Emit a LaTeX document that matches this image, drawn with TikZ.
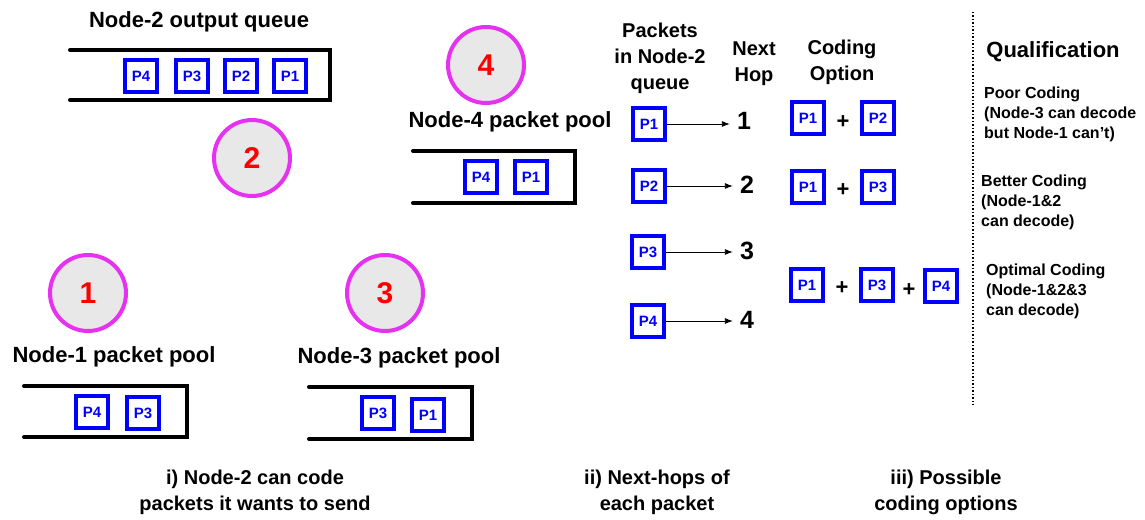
\documentclass[tikz,border=0pt]{standalone}
\usepackage{fontspec}
\setmainfont{Liberation Sans}
\usepackage{tikz}
\usetikzlibrary{arrows.meta}
\definecolor{pktblue}{RGB}{0,0,255}
\definecolor{ringpink}{RGB}{230,50,240}
\definecolor{ringfill}{RGB}{232,232,232}

\begin{document}
\begin{tikzpicture}[
      x=1pt,y=-1pt,
      >={Latex[length=8pt,width=6pt]},
      pkt/.style={
        draw=pktblue,line width=3.5pt,minimum size=32pt,inner sep=0pt,
        text=pktblue,font=\bfseries\fontsize{15}{15}\selectfont
      },
      ring/.style={
        draw=ringpink,fill=ringfill,circle,line width=4pt,minimum size=76pt,
        inner sep=0pt,text=red,font=\bfseries\fontsize{30}{30}\selectfont
      },
      big/.style={font=\bfseries\fontsize{22}{26}\selectfont,align=center},
      head/.style={font=\bfseries\fontsize{20}{26}\selectfont,align=center},
      hop/.style={font=\bfseries\fontsize{25}{25}\selectfont,inner sep=1pt},
      plus/.style={font=\bfseries\fontsize{22}{22}\selectfont},
      note/.style={font=\bfseries\fontsize{16}{20}\selectfont,align=left,anchor=north west,inner sep=0pt},
      queue/.style={line width=4pt,line cap=round},
    ]
    \useasboundingbox (0,0) rectangle (1145,519);

    % node 2 output queue
    \node[big] (q2t) at (199,22) {Node-2 output queue};
    \draw[queue] (70,50) -- (330,50) -- (330,100) -- (70,100);
    \node[pkt] (q2a) at (141,76) {P4};
    \node[pkt] (q2b) at (192,76) {P3};
    \node[pkt] (q2c) at (241,76) {P2};
    \node[pkt] (q2d) at (290,76) {P1};
    \node[ring] (n2) at (252,158) {2};

    % node 4
    \node[ring] (n4) at (486,65) {4};
    \node[big] (q4t) at (510,122) {Node-4 packet pool};
    \draw[queue] (413,151) -- (575,151) -- (575,203) -- (413,203);
    \node[pkt] (q4a) at (481,177) {P4};
    \node[pkt] (q4b) at (531,177) {P1};

    % node 1
    \node[ring] (n1) at (88,293) {1};
    \node[big] (q1t) at (114,357) {Node-1 packet pool};
    \draw[queue] (24,386) -- (187,386) -- (187,437) -- (24,437);
    \node[pkt] (q1a) at (92,412) {P4};
    \node[pkt] (q1b) at (143,413) {P3};

    % node 3
    \node[ring] (n3) at (385,293) {3};
    \node[big] (q3t) at (399,358) {Node-3 packet pool};
    \draw[queue] (309,387) -- (472,387) -- (472,439) -- (309,439);
    \node[pkt] (q3a) at (378,413) {P3};
    \node[pkt] (q3b) at (428,415) {P1};

    % next hops
    \node[head] (hpk) at (660,58) {Packets\\in Node-2\\queue};
    \node[head] (hnh) at (754,64) {Next\\Hop};
    \node[head] (hco) at (842,62) {Coding\\Option};
    \node[pkt] (c1) at (649,124) {P1};
    \node[pkt] (c2) at (649,186) {P2};
    \node[pkt] (c3) at (648,252) {P3};
    \node[pkt] (c4) at (648,321) {P4};
    \node[hop] (h1) at (744,121) {1};
    \node[hop] (h2) at (747,185) {2};
    \node[hop] (h3) at (747,251) {3};
    \node[hop] (h4) at (747,320) {4};
    \draw[thick,->,shorten >=6pt] (c1) -- (c1 -| h1.west);
    \draw[thick,->,shorten >=6pt] (c2) -- (c2 -| h2.west);
    \draw[thick,->,shorten >=6pt] (c3) -- (c3 -| h3.west);
    \draw[thick,->,shorten >=6pt] (c4) -- (c4 -| h4.west);

    % coding options
    \node[pkt] (o1a) at (808,118) {P1};
    \node[plus] (o1p) at (843,122) {+};
    \node[pkt] (o1b) at (878,118) {P2};
    \node[pkt] (o2a) at (808,187) {P1};
    \node[plus] (o2p) at (843,190) {+};
    \node[pkt] (o2b) at (878,187) {P3};
    \node[pkt] (o3a) at (807,285) {P1};
    \node[plus] (o3p) at (842,288) {+};
    \node[pkt] (o3b) at (877,285) {P3};
    \node[plus] (o3q) at (909,290) {+};
    \node[pkt] (o3c) at (941,286) {P4};

    % qualification
    \draw[line width=1.5pt,dotted] (973,12) -- (973,405);
    \node[big] (qual) at (1053,52) {Qualification};
    \node[note] (poor) at (984,87) {Poor Coding\\(Node-3 can decode\\but Node-1 can’t)};
    \node[note] (better) at (981,175) {Better Coding\\(Node-1\&2\\can decode)};
    \node[note] (optimal) at (986,264) {Optimal Coding\\(Node-1\&2\&3\\can decode)};

    % captions
    \node[head] (cap1) at (255,492) {i) Node-2 can code\\packets it wants to send};
    \node[head] (cap2) at (657,492) {ii) Next-hops of\\each packet};
    \node[head] (cap3) at (946,492) {iii) Possible\\coding options};
  \end{tikzpicture}
\end{document}
